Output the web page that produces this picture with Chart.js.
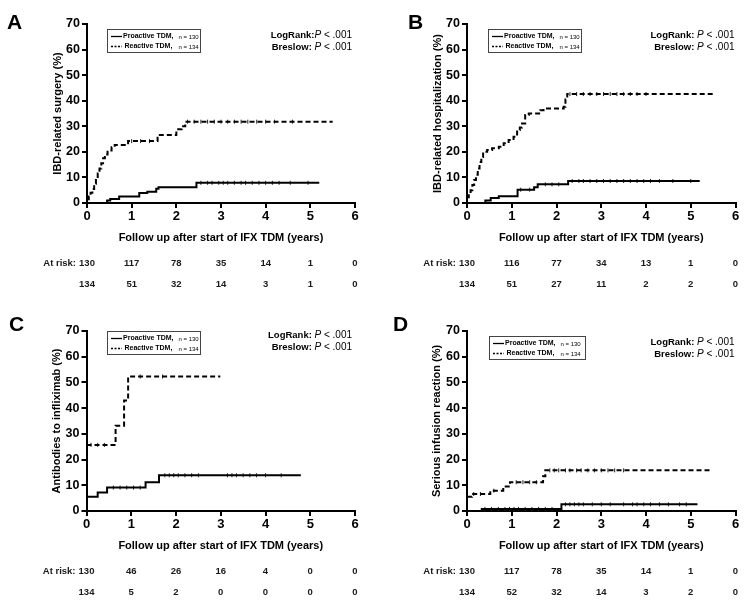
<!DOCTYPE html>
<html>
<head>
<meta charset="utf-8">
<script src="https://cdn.jsdelivr.net/npm/chart.js@4.4.1/dist/chart.umd.min.js"></script>
<style>
  html, body { margin: 0; padding: 0; background: #fff; }
  #wrap { position: relative; width: 754px; height: 608px; overflow: hidden; }
  .panel { position: absolute; width: 377px; height: 304px; }
</style>
</head>
<body>
<div id="wrap">
  <div class="panel" style="left:0;top:0"><canvas id="chartA" width="377" height="304"></canvas></div>
  <div class="panel" style="left:377px;top:0"><canvas id="chartB" width="377" height="304"></canvas></div>
  <div class="panel" style="left:0;top:304px"><canvas id="chartC" width="377" height="304"></canvas></div>
  <div class="panel" style="left:377px;top:304px"><canvas id="chartD" width="377" height="304"></canvas></div>
</div>
<script>
const FONT = '"Liberation Sans", Arial, Helvetica, sans-serif';

const groups = ['Proactive TDM', 'Reactive TDM'];
const groupN = [130, 134];
const yearTicks = [0, 1, 2, 3, 4, 5, 6];

// A - IBD-related surgery
const aProT = [0, 0.45, 0.52, 0.72, 1.17, 1.35, 1.55, 1.6, 2.45, 5.2];
const aProV = [0, 1.0, 1.6, 2.5, 3.9, 4.4, 5.6, 6.2, 7.9, 7.9];
const aReaT = [0, 0.04, 0.08, 0.12, 0.16, 0.2, 0.24, 0.28, 0.32, 0.36, 0.4, 0.46, 0.55, 0.62, 0.92, 1.58, 2.0, 2.12, 2.2, 5.5];
const aReaV = [1.5, 2.5, 4, 5.5, 7.5, 9.5, 11.5, 13.5, 15.5, 17.5, 19, 20.5, 21.8, 22.7, 24.2, 26.6, 28.8, 30, 31.8, 31.8];
const aProCens = [2.55, 2.7, 2.8, 2.95, 3.05, 3.15, 3.3, 3.45, 3.55, 3.7, 3.85, 4.0, 4.15, 4.3, 4.55, 4.95];
const aReaCens = [1.0, 1.2, 1.4, 2.25, 2.4, 2.55, 2.7, 2.85, 3.0, 3.15, 3.3, 3.45, 3.6, 3.8, 4.0, 4.2, 4.6];
const aRiskPro = [130, 117, 78, 35, 14, 1, 0];
const aRiskRea = [134, 51, 32, 14, 3, 1, 0];

// B - IBD-related hospitalization
const bProT = [0, 0.41, 0.53, 0.71, 1.13, 1.5, 1.58, 2.26, 5.2];
const bProV = [0, 1.0, 2.0, 2.6, 5.2, 6.2, 7.3, 8.6, 8.6];
const bReaT = [0, 0.04, 0.08, 0.12, 0.16, 0.2, 0.24, 0.28, 0.32, 0.36, 0.45, 0.56, 0.71, 0.82, 0.93, 1.04, 1.12, 1.18, 1.23, 1.3, 1.38, 1.64, 1.71, 2.16, 2.2, 2.24, 5.52];
const bReaV = [2.2, 3.5, 5, 7, 9, 11, 13.5, 16, 18, 20, 20.7, 21.4, 22, 23.4, 24.6, 25.9, 28.5, 29.5, 31.1, 34.4, 35, 36.3, 37, 37.6, 40.5, 42.6, 42.6];
const bProCens = [1.2, 1.4, 1.75, 1.9, 2.05, 2.35, 2.5, 2.6, 2.75, 2.9, 3.05, 3.2, 3.35, 3.5, 3.65, 3.8, 3.95, 4.1, 4.3, 4.6, 5.0];
const bReaCens = [2.3, 2.45, 2.6, 2.75, 2.9, 3.05, 3.2, 3.35, 3.5, 3.65, 3.8, 4.0];
const bRiskPro = [130, 116, 77, 34, 13, 1, 0];
const bRiskRea = [134, 51, 27, 11, 2, 2, 0];

// C - Antibodies to infliximab
const cProT = [0, 0.25, 0.46, 1.32, 1.62, 4.79];
const cProV = [5.5, 7.2, 9.1, 11.2, 13.9, 13.9];
const cReaT = [0, 0.65, 0.84, 0.93, 2.99];
const cReaV = [25.7, 33.2, 43, 52.3, 52.3];
const cProCens = [0.6, 0.75, 0.9, 1.05, 1.2, 1.75, 1.85, 1.95, 2.05, 2.2, 2.35, 2.5, 3.15, 3.25, 3.35, 3.5, 3.65, 3.8, 4.0, 4.35];
const cReaCens = [0.1, 0.25, 0.4, 1.2, 1.7];
const cRiskPro = [130, 46, 26, 16, 4, 0, 0];
const cRiskRea = [134, 5, 2, 0, 0, 0, 0];

// D - Serious infusion reaction
const dProT = [0, 0.33, 2.11, 5.15];
const dProV = [0, 0.8, 2.6, 2.6];
const dReaT = [0, 0.11, 0.52, 0.81, 0.96, 1.7, 1.75, 5.48];
const dReaV = [5.5, 6.6, 7.9, 9.5, 11.2, 13.5, 15.8, 15.8];
const dProCens = [0.4, 0.55, 0.7, 0.85, 0.95, 1.05, 1.15, 1.3, 1.45, 1.6, 1.75, 1.9, 2.2, 2.3, 2.4, 2.5, 2.6, 2.8, 3.0, 3.2, 3.5, 3.7, 3.8, 3.95, 4.1, 4.3, 4.5, 4.75, 4.9];
const dReaCens = [0.15, 0.3, 0.6, 1.1, 1.25, 1.4, 1.55, 1.85, 1.95, 2.05, 2.2, 2.3, 2.45, 2.55, 2.7, 2.85, 3.0, 3.15, 3.3, 3.5];
const dRiskPro = [130, 117, 78, 35, 14, 1, 0];
const dRiskRea = [134, 52, 32, 14, 3, 2, 0];

function stepValue(ts, vs, t) {
    let v = vs[0];
    for (let i = 0; i < ts.length; i++) {
        if (ts[i] <= t) v = vs[i];
    }
    return v;
}

function drawPText(ctx, label, right, y) {
    const parts = [
        { t: label, f: 'bold 9.5px ' + FONT },
        { t: 'P', f: 'italic 10px ' + FONT },
        { t: ' < .001', f: '10px ' + FONT }
    ];
    let w = 0;
    parts.forEach(p => { ctx.font = p.f; p.w = ctx.measureText(p.t).width; w += p.w; });
    let x = right - w;
    ctx.textAlign = 'left';
    parts.forEach(p => { ctx.font = p.f; ctx.fillText(p.t, x, y); x += p.w; });
}

const kmExtras = {
    id: 'kmExtras',
    afterDraw(chart, args, o) {
        const ctx = chart.ctx;
        const area = chart.chartArea;
        const xs = chart.scales.x;
        ctx.save();
        ctx.fillStyle = '#000';

        // panel letter
        ctx.font = 'bold 21px ' + FONT;
        ctx.textAlign = 'left';
        ctx.textBaseline = 'alphabetic';
        ctx.fillText(o.letter, o.letterX, o.letterY);

        // legend box
        const lx = Math.round(area.left + o.legendDx), ly = Math.round(area.top + o.legendDy);
        ctx.strokeStyle = '#444';
        ctx.lineWidth = 1;
        ctx.strokeRect(lx + 0.5, ly + 0.5, o.legendW, 23);
        ctx.textBaseline = 'middle';
        groups.forEach((g, i) => {
            const yy = ly + 7.5 + i * 10;
            ctx.beginPath();
            ctx.setLineDash(i ? [2, 1.5] : []);
            ctx.lineWidth = 1.3;
            ctx.strokeStyle = '#000';
            ctx.moveTo(lx + 4, yy);
            ctx.lineTo(lx + 15, yy);
            ctx.stroke();
            ctx.setLineDash([]);
            ctx.font = 'bold 7px ' + FONT;
            ctx.fillText(g + ',', lx + 16 + (i ? 1.5 : 0), yy);
            ctx.font = '6px ' + FONT;
            ctx.fillText('n = ' + groupN[i], lx + 71.5, yy + 0.5);
        });

        // test results
        drawPText(ctx, o.logRankLabel, area.right + o.pDx, area.top + o.pDy);
        drawPText(ctx, 'Breslow: ', area.right + o.pDx, area.top + o.pDy + 12);

        // numbers at risk
        ctx.fillStyle = '#1a1a1a';
        ctx.font = 'bold 9.5px ' + FONT;
        ctx.textAlign = 'center';
        [o.riskPro, o.riskRea].forEach((row, r) => {
            const yy = area.bottom + (r ? 81.5 : 60);
            row.forEach((n, i) => ctx.fillText(String(n), xs.getPixelForValue(yearTicks[i]), yy));
        });
        ctx.textAlign = 'right';
        ctx.fillText('At risk:', xs.getPixelForValue(0) - 11, area.bottom + 60);
        ctx.restore();
    }
};

function buildPanel(id, p) {
    const W = 377, H = 304;
    const xH = H - p.bottom;
    const line = (ts, vs, dash) => ({
        data: ts.map((t, i) => ({ x: t, y: vs[i] })),
        borderColor: '#000',
        borderWidth: 2,
        borderDash: dash,
        pointRadius: 0,
        stepped: true,
        fill: false
    });
    const cens = (c, ts, vs) => ({
        data: c.map(t => ({ x: t, y: stepValue(ts, vs, t) })),
        showLine: false,
        pointStyle: 'line',
        rotation: 90,
        pointRadius: 2,
        pointBorderWidth: 1,
        borderColor: '#222'
    });
    return new Chart(document.getElementById(id), {
        type: 'line',
        data: {
            datasets: [
                line(p.proT, p.proV, []),
                line(p.reaT, p.reaV, [5, 3]),
                cens(p.proCens, p.proT, p.proV),
                cens(p.reaCens, p.reaT, p.reaV)
            ]
        },
        options: {
            responsive: false,
            animation: false,
            devicePixelRatio: 1,
            layout: { padding: { left: 0, top: p.top, right: W - p.right, bottom: 0 } },
            plugins: {
                legend: { display: false },
                tooltip: { enabled: false },
                kmExtras: {
                    letter: p.letter, letterX: p.letterX, letterY: p.letterY,
                    legendDx: p.legendDx, legendDy: p.legendDy, legendW: p.legendW,
                    logRankLabel: p.logRankLabel, pDx: p.pDx, pDy: p.pDy,
                    riskPro: p.riskPro, riskRea: p.riskRea
                }
            },
            scales: {
                x: {
                    type: 'linear',
                    min: 0,
                    max: 6,
                    ticks: { stepSize: 1, color: '#000', padding: 1, maxRotation: 0, font: { family: FONT, size: 13, weight: 'bold' } },
                    grid: { drawOnChartArea: false, tickLength: 5, color: '#000', lineWidth: 2 },
                    border: { color: '#000', width: 2 },
                    title: {
                        display: true,
                        text: 'Follow up after start of IFX TDM (years)',
                        color: '#000',
                        font: { family: FONT, size: 11, weight: 'bold' },
                        padding: { top: 0, bottom: xH - 34.5 - 6.6 }
                    },
                    afterFit(s) { s.height = xH; }
                },
                y: {
                    min: 0,
                    max: 70,
                    ticks: { stepSize: 10, color: '#000', padding: 2, font: { family: FONT, size: 12.5, weight: 'bold' } },
                    grid: { drawOnChartArea: false, tickLength: 5, color: '#000', lineWidth: 2 },
                    border: { color: '#000', width: 2 },
                    title: {
                        display: true,
                        text: p.yTitle,
                        color: '#000',
                        font: { family: FONT, size: 11, weight: 'bold' },
                        padding: { top: p.yTitleX - 6.6, bottom: 0 }
                    },
                    afterFit(s) { s.width = p.left; }
                }
            }
        },
        plugins: [kmExtras]
    });
}

buildPanel('chartA', {
    yTitle: 'IBD-related surgery (%)',
    proT: aProT, proV: aProV, reaT: aReaT, reaV: aReaV, proCens: aProCens, reaCens: aReaCens,
    riskPro: aRiskPro, riskRea: aRiskRea,
    left: 87, right: 355, top: 24, bottom: 203, yTitleX: 58,
    letter: 'A', letterX: 7, letterY: 29,
    legendDx: 20, legendDy: 5, legendW: 93,
    logRankLabel: 'LogRank:', pDx: -3, pDy: 11
});

buildPanel('chartB', {
    yTitle: 'IBD-related hospitalization (%)',
    proT: bProT, proV: bProV, reaT: bReaT, reaV: bReaV, proCens: bProCens, reaCens: bReaCens,
    riskPro: bRiskPro, riskRea: bRiskRea,
    left: 90, right: 358.5, top: 24, bottom: 203, yTitleX: 61,
    letter: 'B', letterX: 31, letterY: 29,
    legendDx: 21, legendDy: 5, legendW: 93,
    logRankLabel: 'LogRank: ', pDx: -1, pDy: 11
});

buildPanel('chartC', {
    yTitle: 'Antibodies to infliximab (%)',
    proT: cProT, proV: cProV, reaT: cReaT, reaV: cReaV, proCens: cProCens, reaCens: cReaCens,
    riskPro: cRiskPro, riskRea: cRiskRea,
    left: 86.5, right: 355, top: 27, bottom: 207, yTitleX: 57,
    letter: 'C', letterX: 9, letterY: 27,
    legendDx: 20, legendDy: 0, legendW: 93,
    logRankLabel: 'LogRank: ', pDx: -3, pDy: 4
});

buildPanel('chartD', {
    yTitle: 'Serious infusion reaction (%)',
    proT: dProT, proV: dProV, reaT: dReaT, reaV: dReaV, proCens: dProCens, reaCens: dReaCens,
    riskPro: dRiskPro, riskRea: dRiskRea,
    left: 90, right: 358.5, top: 27, bottom: 207, yTitleX: 60,
    letter: 'D', letterX: 16, letterY: 27,
    legendDx: 22, legendDy: 5, legendW: 96,
    logRankLabel: 'LogRank: ', pDx: -1, pDy: 11.5
});
</script>
</body>
</html>
